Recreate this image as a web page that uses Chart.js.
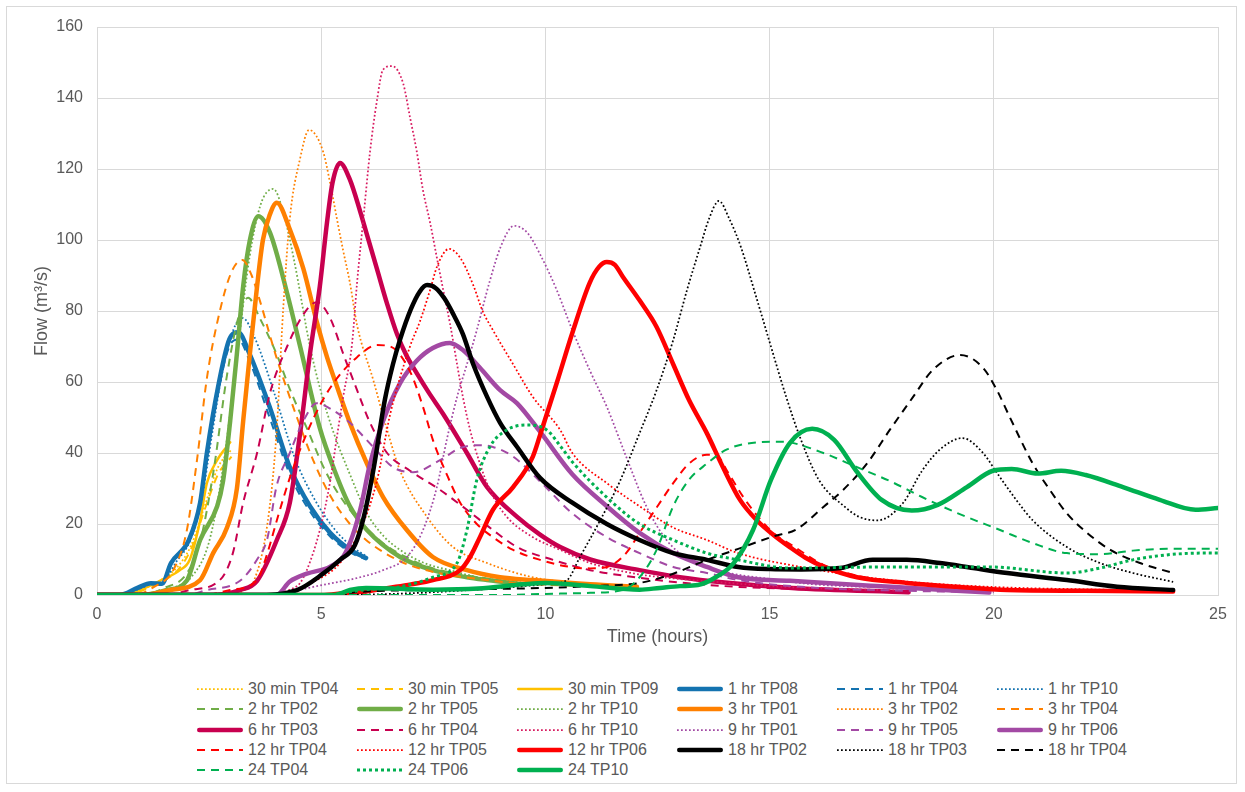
<!DOCTYPE html>
<html><head><meta charset="utf-8">
<script src="https://cdn.jsdelivr.net/npm/chart.js@4.4.1/dist/chart.umd.min.js"></script>
<style>
html,body{margin:0;padding:0;background:#fff;}
#wrap{position:relative;width:1245px;height:792px;overflow:hidden;font-family:"Liberation Sans",Arial,sans-serif;background:#fff;}
#frame{position:absolute;left:6px;top:6px;width:1231px;height:778px;border:1px solid #d9d9d9;box-sizing:border-box;}
#cv{position:absolute;left:0;top:0;}
#legend{position:absolute;left:197px;top:679px;display:grid;grid-template-columns:repeat(6,160px);grid-auto-rows:20.3px;}
.item{display:flex;align-items:center;font-size:16px;color:#595959;white-space:nowrap;line-height:20px;}
.item svg{width:46px;height:10px;margin-right:5px;flex:none;}
</style></head>
<body><div id="wrap"><div id="frame"></div><canvas id="cv" width="1245" height="660"></canvas><div id="legend"></div></div>
<script>
// ---- axis ticks ----
const X_TICKS = [0, 5, 10, 15, 20, 25];
const Y_TICKS = [0, 20, 40, 60, 80, 100, 120, 140, 160];

// ---- series data: time (hours) and flow (m3/s) ----
const T_30min_TP04 = [0,0.6,1.0,1.4,1.8,2.1,2.4,2.7,3.0];
const Q_30min_TP04 = [0,0,1.5,4,8,14,25,36,41];
const T_30min_TP05 = [0,0.6,1.0,1.4,1.8,2.1,2.4,2.7,3.0];
const Q_30min_TP05 = [0,0,1.2,3.5,7,13,24,34,39];
const T_30min_TP09 = [0,0.5,0.96,1.4,1.85,2.07,2.3,2.45,2.68,2.97];
const Q_30min_TP09 = [0,0,1.4,4,7,10,21,31.5,38,43];
const T_1hr_TP08 = [0,0.5,0.9,1.2,1.45,1.65,2.05,2.3,2.45,2.7,2.95,3.15,3.4,3.85,4.3,4.75,5.2,5.65,6.0];
const Q_1hr_TP08 = [0,0,2,3.3,3.2,9,15.5,26,40,58.6,72,74,68,53,36,25,17.5,12.7,10.4];
const T_1hr_TP04 = [0,0.5,0.9,1.2,1.45,1.65,2.05,2.3,2.45,2.7,2.95,3.15,3.4,3.85,4.3,4.75,5.2,5.65,6.0];
const Q_1hr_TP04 = [0,0,1.6,3,3,8.5,15,25,38,57,70,72,66,50,34,23.5,16.5,12,10];
const T_1hr_TP10 = [0,0.5,0.9,1.2,1.5,1.75,2.1,2.35,2.55,2.8,3.05,3.25,3.5,3.95,4.4,4.85,5.3,5.7,6.0];
const Q_1hr_TP10 = [0,0,1.5,3,4,9,16,28,44,63,75,78,73,57,39,27,18.5,13.5,11];
const T_2hr_TP02 = [0,1.0,1.5,2.0,2.3,2.6,2.9,3.15,3.37,3.63,4.0,4.3,4.68,5.13,5.64,6.38,7.0,7.5,8.5,9.5];
const Q_2hr_TP02 = [0,0,2,6,15,35,62,78,83.7,78,68,58,47,34,24,14.6,10,7.5,5,3.2];
const T_2hr_TP05 = [0,1.0,1.56,2.0,2.3,2.68,2.81,2.97,3.12,3.26,3.41,3.6,3.86,4.24,4.53,4.97,5.3,5.64,6.02,6.76,7.49,8.25,8.7,9.5];
const Q_2hr_TP05 = [0,0,1.4,4,15.5,25,32,49,68,87,100,106.7,102,85,70,47,35,25,18.3,10.7,7,5,4.2,3];
const T_2hr_TP10 = [0,1.2,1.7,2.1,2.5,2.8,3.1,3.4,3.65,3.93,4.15,4.4,4.75,5.0,5.27,5.64,6.02,6.4,6.76,7.3,7.87,8.5,9.5];
const Q_2hr_TP10 = [0,0,2,5,15,35,65,95,110,114.4,108,94,70,57,46,34,23,16.5,12.7,9,7,5,3.5];
const T_3hr_TP01 = [0,1.0,1.63,2.3,2.59,2.9,3.12,3.26,3.41,3.57,3.7,3.85,4.01,4.3,4.6,4.9,5.13,5.4,5.64,6.02,6.38,6.91,7.49,8.25,8.99,9.72,11,12.04];
const Q_3hr_TP01 = [0,0,1.4,4.2,11.8,19,30,49,68,87,100,107,110.5,103,92,77,67,57,48.5,37,27.6,18.3,10.7,7,5,4.2,3,2.3];
const T_3hr_TP02 = [0,2.8,3.3,3.5,3.8,4.0,4.15,4.3,4.53,4.73,5.04,5.2,5.35,5.49,5.64,5.8,6.16,6.47,6.76,7.36,7.94,8.7,9.72,11,12];
const Q_3hr_TP02 = [0,0,1.5,4,20,45,80,106,123,131,125,116,106,97,88,76,60.6,46.5,35,22,13.5,9,5,3,2];
const T_3hr_TP04 = [0,0.8,1.3,1.7,2.0,2.23,2.45,2.74,3.0,3.24,3.45,3.63,4.0,4.46,4.82,5.2,5.64,6.0,6.76,7.5,8.5,9.5,11,12];
const Q_3hr_TP04 = [0,0,2.5,7,18,38,61,80,91,94.4,90,83,67,50,38,28,20,15.5,9.5,6.5,4.5,3.2,2.5,2];
const T_6hr_TP03 = [0,2.5,3.19,3.57,4.01,4.3,4.53,4.75,4.97,5.13,5.25,5.42,5.64,5.87,6.02,6.24,6.47,6.69,6.9,7.13,7.4,7.72,8.25,8.7,9.37,9.88,10.33,11,12.1,13,14,15.5,18.1];
const Q_6hr_TP03 = [0,0,1.4,4,15.5,26,45.6,68,87,105,116,121.7,117,108,101.5,92,82,73.5,67.5,62.5,57,51,40,30.4,22,17,13.5,10,7,5,3.5,2,0.8];
const T_6hr_TP04 = [0,1.5,2.07,2.74,3.03,3.26,3.57,3.86,4.24,4.6,4.9,5.2,5.49,5.8,6.09,6.47,6.98,7.65,8.25,8.83,9.37,10.17,11,12,13,14,16,18];
const Q_6hr_TP04 = [0,0,1.4,4.2,11.8,26,40,57,70,79,82.5,78,68,57.7,48.5,40,35,29.6,24,18.3,13.5,9.9,7,5,3.5,2.5,1.5,0.8];
const T_6hr_TP10 = [0,3.8,4.3,4.53,4.68,4.97,5.2,5.35,5.49,5.69,5.8,5.94,6.09,6.24,6.38,6.58,6.83,6.98,7.13,7.27,7.43,7.58,7.72,7.87,8.03,8.16,8.32,8.54,8.76,9.14,9.72,10.33,11,12,13,14,15,18];
const Q_6hr_TP10 = [0,0,1.5,3.4,7,18.3,32,44.5,55.8,71,88,106,125,139,148,149,144,134.6,125,114,104.8,95,86,76.6,65,55.8,46.5,37,29.6,22,16.3,12.7,9,6,4.5,3.5,2.5,1.2];
const T_9hr_TP01 = [0,3.5,5.27,5.87,6.38,6.91,7.27,7.58,7.8,8.03,8.25,8.47,8.75,9.0,9.3,9.6,9.88,10.25,10.6,11.0,11.37,11.8,12.25,12.7,13.2,14,15,16,18,20];
const Q_9hr_TP01 = [0,0,3.4,5,7,10.7,18.3,30.4,43.7,55.8,65,74.6,88,98,104,102,96,86,74.6,63,53,39,25,15.5,10,6.5,4.5,3,2,1.2];
const T_9hr_TP05 = [0,2.0,2.45,3.19,3.57,3.8,4.0,4.3,4.6,4.9,5.2,5.64,6.16,6.6,7.05,7.65,8.1,8.47,8.83,9.28,9.88,10.6,11.37,12.1,12.85,13.6,14.3,15.7,18,20];
const Q_9hr_TP05 = [0,0,1.4,4,10,16,30.4,40,49,54,52.5,48.5,41.7,36,34.6,38,41.4,42.2,41.7,39,32,23,16.3,11.8,7.9,6.2,4.2,2.3,1.2,0.8];
const T_9hr_TP06 = [0,4.0,4.3,4.68,5.2,5.5,5.64,5.87,6.09,6.38,6.76,7.13,7.49,7.87,8.16,8.54,8.99,9.37,9.88,10.6,11.37,12.1,12.85,13.6,14.3,15.45,17.7,19.9];
const Q_9hr_TP06 = [0,0,3.8,6,8,11,14.6,24,37,49,59.7,66,69.6,71,69,64,57.7,54,46,34,25,17.5,11.8,7.9,5,4,2.3,0.7];
const T_12hr_TP04 = [0,2.4,2.97,3.57,3.8,4.01,4.3,4.68,5.04,5.35,5.8,6.24,6.54,6.98,7.27,7.49,7.8,8.1,8.47,8.83,9.28,9.88,10.5,11.0,11.37,11.8,12.1,12.5,12.85,13.2,13.6,13.85,14.05,14.5,15.08,15.5,16.2,17,18,20,22,24];
const Q_12hr_TP04 = [0,0,1.4,4.2,11.8,21,33,45.6,55,61,67,70.4,70,63,53,43.7,34,26,20,16.3,12.7,9.9,8,7.5,7.9,11.8,17.5,25,31.5,37,39.5,39,35,26,17.5,14,8.5,5.3,3.6,1.8,1.3,1];
const T_12hr_TP05 = [0,4.0,4.9,5.42,5.87,6.24,6.54,6.98,7.2,7.43,7.58,7.85,8.1,8.4,8.6,8.83,9.28,9.72,10.33,10.6,11.37,12.1,12.85,13.6,14.3,15.7,17.7,19.9,22,24];
const Q_12hr_TP05 = [0,0,4.2,9,18.3,32,51,70,77,86,92.4,97.5,95,87,80,74.6,65,55.8,46.5,40,31.5,25,19,15.5,11.8,7.9,4.2,2.3,1.6,1.2];
const T_12hr_TP06 = [0,5.0,5.5,6.0,6.5,7.0,7.49,8.1,8.32,8.54,8.83,9.28,9.72,9.88,10.26,10.6,10.99,11.2,11.37,11.55,11.73,12.1,12.48,12.85,13.2,13.6,13.96,14.34,14.72,15.08,15.45,15.8,16.2,16.95,18.06,19.18,20.3,22,24];
const Q_12hr_TP06 = [0,0,0.5,1,2,3,4.2,7,10.7,16.3,24,30.4,39,45,60,73.8,88,92.5,93.8,93,89.6,83,75.5,65,55,45.6,36,26.8,21,17,13.5,10.5,8,5,3.4,2.3,1.4,1.2,1];
const T_18hr_TP02 = [0,3.5,4.46,5.04,5.42,5.75,5.95,6.16,6.42,6.6,6.76,7.0,7.2,7.36,7.55,7.75,7.95,8.16,8.39,8.7,8.99,9.37,9.88,10.6,11.37,12.1,12.85,13.6,14.3,15.0,15.7,16.57,17.3,18.06,18.8,19.54,20.3,21.63,22.75,24];
const Q_18hr_TP02 = [0,0,1.4,6,9.9,14,22,35,55,65,72,80.5,85.5,87.3,86.5,83.5,79,73.5,65,55.8,48.5,41.7,33,26,20,15.5,11.8,9.9,7.9,7.3,7.2,7.6,9.9,9.9,9,7.6,6.2,4.2,2.3,1.4];
const T_18hr_TP03 = [0,5,7,9,10,10.48,10.77,11.22,11.66,12.1,12.48,12.85,13.16,13.45,13.65,13.87,14.1,14.36,14.7,15.03,15.37,15.7,16.1,16.68,17.0,17.4,17.98,18.4,18.8,19.3,19.76,20.07,20.5,20.87,21.63,22.37,23.1,24];
const Q_18hr_TP03 = [0,0,0.5,2,3,4.2,10.7,21,32,45.6,57.7,71.8,86,98,106,111,106,98,84,70,55.8,43.7,32.4,24.8,22,21,26,35,41,44.2,40,34.4,26.8,21,13.5,9,6.2,3.7];
const T_18hr_TP04 = [0,5,6,8,10,11,12.1,12.85,13.6,14.3,15.08,15.6,16.2,16.64,17.17,17.68,18.2,18.64,19.25,19.76,20.07,20.36,20.87,21.25,21.63,22.08,22.6,23.26,24];
const Q_18hr_TP04 = [0,0,1,1.5,2,2.5,3.4,6,9.9,13,16.5,18.5,24.8,29.6,37,46.5,55.8,63.4,67.6,64,57.7,50,37,29.6,23,17.5,12.7,9,6.2];
const T_24_TP04 = [0,9,10,11,11.73,12.1,12.48,12.85,13.2,13.6,14.05,14.72,15.2,15.45,16.2,16.95,17.7,18.4,19.2,20.14,20.87,21.63,22.37,23.1,23.86,25];
const Q_24_TP04 = [0,0,0.3,0.6,1.4,5,12.7,25,32.4,37,41,43,43.2,43,40,36,32,27.6,23,18.3,14.6,11.8,11.5,12.5,13,13];
const T_24_TP06 = [0,5,6,6.76,7.49,8.03,8.25,8.47,8.76,9.14,9.58,10.03,10.33,10.6,11.37,12.1,12.85,13.6,14.3,15.45,17.7,19.9,21.63,22.37,23.1,23.86,24.6,25];
const Q_24_TP06 = [0,0,1.5,2.3,5,9,18.3,32.4,41.7,46.5,47.9,46.5,42,37.5,27.5,20,15.5,11.8,9.9,7.6,7.9,7.9,6.2,7.6,9.9,11.3,11.8,11.8];
const T_24_TP10 = [0,5.3,5.64,6.0,7.5,8.5,9.5,10,11,12.1,12.55,13.0,13.4,13.8,14.2,14.63,15.03,15.45,15.95,16.44,16.93,17.5,18.17,18.75,19.4,19.98,20.4,20.98,21.5,22.05,22.88,23.7,24.5,25];
const Q_24_TP10 = [0,0,1.4,2,1.5,1.8,3,3.4,2.5,1.5,2,2.5,2.8,5,9,18.3,32.4,42.8,46.8,43.7,35,26.8,23.8,25.4,30.4,35,35.5,34.2,35,33.8,30.4,26.8,24,24.5];

// ---- series list (label, times, flows) ----
const SERIES = [
  ["30 min TP04", T_30min_TP04, Q_30min_TP04],
  ["30 min TP05", T_30min_TP05, Q_30min_TP05],
  ["30 min TP09", T_30min_TP09, Q_30min_TP09],
  ["1 hr TP08", T_1hr_TP08, Q_1hr_TP08],
  ["1 hr TP04", T_1hr_TP04, Q_1hr_TP04],
  ["1 hr TP10", T_1hr_TP10, Q_1hr_TP10],
  ["2 hr TP02", T_2hr_TP02, Q_2hr_TP02],
  ["2 hr TP05", T_2hr_TP05, Q_2hr_TP05],
  ["2 hr TP10", T_2hr_TP10, Q_2hr_TP10],
  ["3 hr TP01", T_3hr_TP01, Q_3hr_TP01],
  ["3 hr TP02", T_3hr_TP02, Q_3hr_TP02],
  ["3 hr TP04", T_3hr_TP04, Q_3hr_TP04],
  ["6 hr TP03", T_6hr_TP03, Q_6hr_TP03],
  ["6 hr TP04", T_6hr_TP04, Q_6hr_TP04],
  ["6 hr TP10", T_6hr_TP10, Q_6hr_TP10],
  ["9 hr TP01", T_9hr_TP01, Q_9hr_TP01],
  ["9 hr TP05", T_9hr_TP05, Q_9hr_TP05],
  ["9 hr TP06", T_9hr_TP06, Q_9hr_TP06],
  ["12 hr TP04", T_12hr_TP04, Q_12hr_TP04],
  ["12 hr TP05", T_12hr_TP05, Q_12hr_TP05],
  ["12 hr TP06", T_12hr_TP06, Q_12hr_TP06],
  ["18 hr TP02", T_18hr_TP02, Q_18hr_TP02],
  ["18 hr TP03", T_18hr_TP03, Q_18hr_TP03],
  ["18 hr TP04", T_18hr_TP04, Q_18hr_TP04],
  ["24 TP04", T_24_TP04, Q_24_TP04],
  ["24 TP06", T_24_TP06, Q_24_TP06],
  ["24 TP10", T_24_TP10, Q_24_TP10]
];

// ---- styles (colour, line kind) per series, same order ----
const STYLE = [
  ["#FFC000","dot"],["#FFC000","dash"],["#FFC000","thin"],
  ["#1473B0","thick"],["#1473B0","dash"],["#1473B0","dot"],
  ["#70AD47","dash"],["#70AD47","thick"],["#70AD47","dot"],
  ["#FF8000","thick"],["#FF8000","dot"],["#FF8000","dash"],
  ["#C8004F","thick"],["#C8004F","dash"],["#D81B60","dot"],
  ["#A349A4","dot"],["#A349A4","dash"],["#A349A4","thick"],
  ["#FF0000","dash"],["#FF0000","dot"],["#FF0000","thick"],
  ["#000000","thick"],["#000000","dot"],["#000000","dash"],
  ["#00B050","dash"],["#00B050","dotBold"],["#00B050","thick"]
];
const KINDS = {
  thick:   {w:4.5, dash:[], cap:"round"},
  thin:    {w:2.5, dash:[], cap:"round"},
  dash:    {w:2,   dash:[8,6], cap:"butt"},
  dot:     {w:1.75,dash:[1.75,2.25], cap:"butt"},
  dotBold: {w:3,   dash:[3,3], cap:"butt"}
};

const N = SERIES.length;
const datasets = SERIES.map((s, i) => {
  const [label, t, q] = s;
  const [color, kind] = STYLE[i];
  const k = KINDS[kind];
  return {
    label,
    data: t.map((x, j) => ({x, y: q[j]})),
    borderColor: color,
    backgroundColor: color,
    borderWidth: k.w,
    borderDash: k.dash,
    borderCapStyle: k.cap,
    borderJoinStyle: "round",
    pointRadius: 0,
    pointHoverRadius: 0,
    fill: false,
    cubicInterpolationMode: "monotone",
    tension: 0.4,
    order: N - i
  };
});

const FONT = "'Liberation Sans', Arial, sans-serif";
const TEXT = "#595959";
const GRID = "#d9d9d9";

new Chart(document.getElementById("cv"), {
  type: "line",
  data: {datasets},
  options: {
    responsive: false,
    animation: false,
    devicePixelRatio: 1,
    layout: {padding: {left: 0, top: 27, right: 27, bottom: 0}},
    plugins: {legend: {display: false}, tooltip: {enabled: false}},
    scales: {
      x: {
        type: "linear", min: 0, max: 25,
        afterBuildTicks: (s) => { s.ticks = X_TICKS.map(v => ({value: v})); },
        afterFit: (s) => { s.height = 65; },
        grid: {color: GRID, lineWidth: 1, drawTicks: false},
        border: {display: true, color: GRID},
        ticks: {color: TEXT, font: {family: FONT, size: 16}, padding: 10, maxRotation: 0},
        title: {display: true, text: "Time (hours)", color: TEXT, font: {family: FONT, size: 18}, padding: {top: 0, bottom: 12}}
      },
      y: {
        type: "linear", min: 0, max: 160,
        afterBuildTicks: (s) => { s.ticks = Y_TICKS.map(v => ({value: v})); },
        afterFit: (s) => { s.width = 97; },
        grid: {color: GRID, lineWidth: 1, drawTicks: false},
        border: {display: true, color: GRID},
        ticks: {color: TEXT, font: {family: FONT, size: 16}, padding: 14},
        title: {display: true, text: "Flow (m\u00B3/s)", color: TEXT, font: {family: FONT, size: 18}, padding: {top: 31, bottom: 0}}
      }
    }
  }
});

// ---- HTML legend built from the series list ----
const leg = document.getElementById("legend");
SERIES.forEach((s, i) => {
  const [color, kind] = STYLE[i];
  const k = KINDS[kind];
  const div = document.createElement("div");
  div.className = "item";
  const dash = k.dash.length ? `stroke-dasharray="${k.dash.join(",")}"` : "";
  const inset = k.cap === "round" ? k.w / 2 : 0;
  div.innerHTML = `<svg viewBox="0 0 46 10"><line x1="${inset}" y1="5" x2="${46 - inset}" y2="5" stroke="${color}" stroke-width="${k.w}" ${dash} stroke-linecap="${k.cap}"/></svg><span>${s[0]}</span>`;
  leg.appendChild(div);
});
</script>
</body></html>
